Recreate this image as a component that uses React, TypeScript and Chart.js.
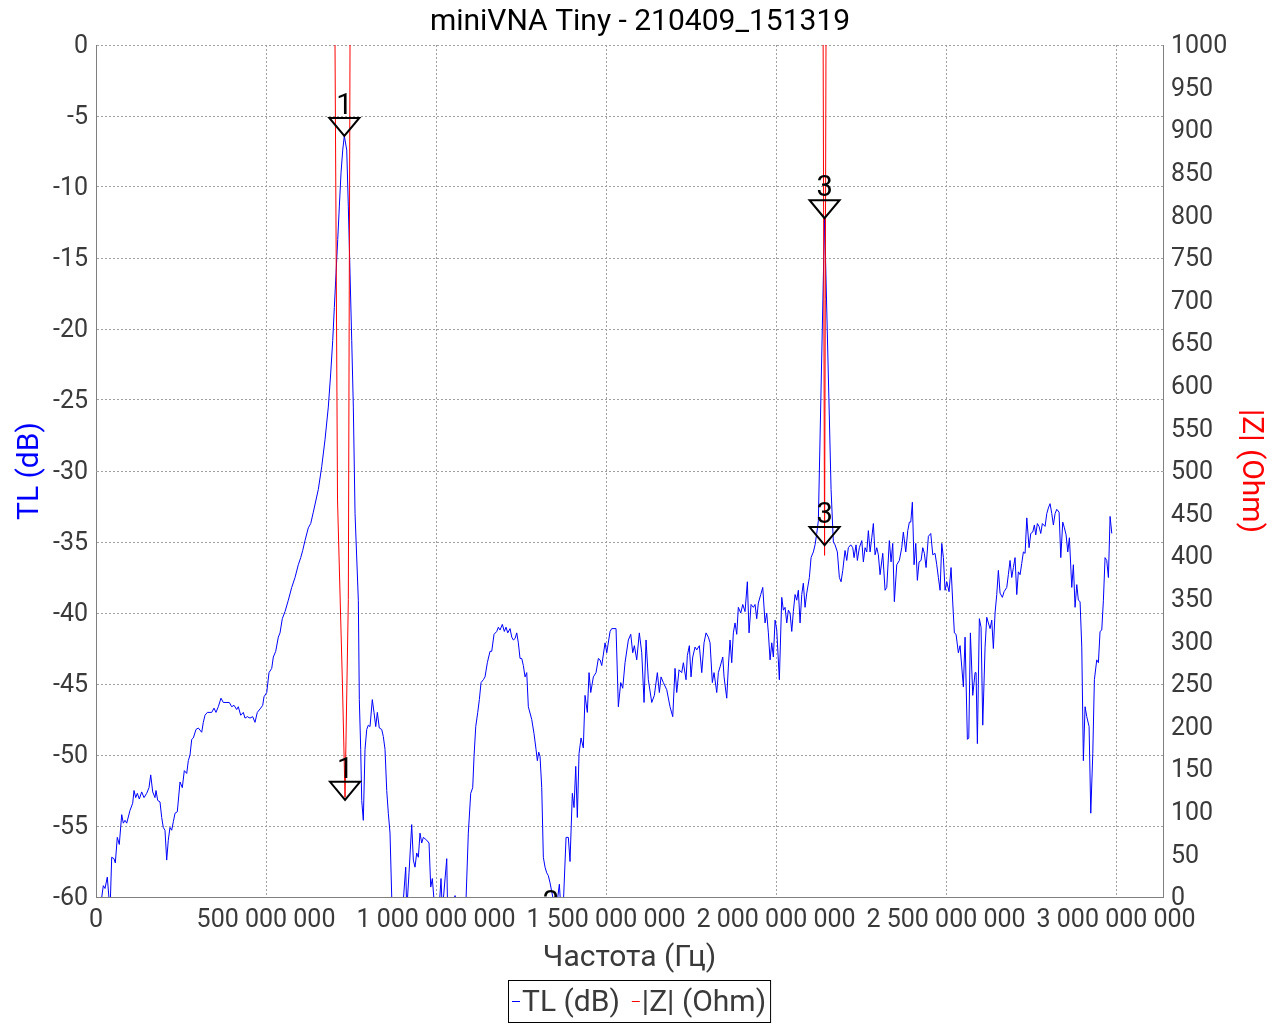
import React, { useEffect, useRef } from 'react';
import { Chart, registerables } from 'chart.js';

Chart.register(...registerables);

const FONT = 'Roboto, "Noto Sans", "DejaVu Sans", sans-serif';

const chartTitle = 'miniVNA Tiny - 210409_151319';
const xTitle = 'Частота (Гц)';
const tlLabel = 'TL (dB)';
const zLabel = '|Z| (Ohm)';

// TL (dB) trace: frequency in MHz and value in dB
const tlFreqMHz = [
  17, 21.5, 26.5, 33.2, 41.2, 46.2, 52.9, 56.8, 62.6, 68.5, 75.6, 80.3, 85.3, 90.3, 100, 107.9, 111.8, 116.8, 121.5, 127.4,
  134.4, 141.2, 149.1, 155.9, 160.9, 166.8, 173.5, 176.5, 181.5, 188.2, 193.2, 197.9, 202.9, 207.9, 212.6, 217.6, 222.6, 227.4, 232.4, 239.1,
  247.1, 253.8, 259.7, 266.8, 271.5, 276.5, 281.5, 286.2, 294.1, 300.9, 310.9, 315.6, 320.6, 327.4, 340.3, 347.1, 352.9, 359.7, 367.6, 374.4,
  382.4, 392.1, 399.1, 405.9, 413.8, 418.5, 425.6, 433.2, 438.2, 445.0, 452.9, 460.9, 467.6, 474.4, 484.4, 490.3, 494.1, 502.1, 508.8, 516.8,
  521.5, 528.5, 536.2, 541.2, 547.9, 555.9, 565.6, 575.6, 585.3, 595.0, 602.1, 607.9, 614.7, 624.4, 631.5, 639.1, 653.8, 663.8, 673.5, 683.2,
  690.3, 696.2, 700.9, 705.9, 710.9, 715.6, 720.6, 725.6, 730.3, 737.4, 742.1, 747.1, 752.1, 756.8, 761.8, 771.5, 774.4, 778.5, 781.5, 786.2,
  791.2, 796.2, 800.9, 805.9, 812.6, 817.6, 822.7, 827.4, 833.2, 840.3, 845.0, 850.0, 855.0, 859.7, 864.7, 869.7, 882.4, 897.0, 910.9, 913.8,
  920.6, 928.5, 933.3, 938.2, 943.2, 948.0, 952.9, 957.9, 962.7, 972.7, 979.4, 984.4, 989.1, 995.0, 1005.9, 1014.7, 1018.5, 1031.5, 1034.1, 1044.0,
  1055.9, 1068.0, 1088.2, 1095.0, 1102.0, 1107.9, 1111.8, 1116.8, 1122.7, 1127.4, 1132.4, 1139.1, 1144.1, 1150.9, 1158.8, 1163.8, 1170.6, 1178.5, 1183.3, 1188.2,
  1195.0, 1200.9, 1205.9, 1210.9, 1217.7, 1222.7, 1227.4, 1232.4, 1237.4, 1242.1, 1247.1, 1252.1, 1256.8, 1261.8, 1266.8, 1271.5, 1281.5, 1288.2, 1294.1, 1298.0,
  1302.1, 1305.9, 1310.9, 1315.6, 1320.6, 1325.6, 1330.3, 1335.3, 1345.0, 1353.0, 1362.7, 1367.6, 1374.4, 1382.4, 1389.1, 1394.1, 1400.9, 1405.9, 1410.9, 1415.6,
  1420.6, 1426.5, 1433.2, 1438.2, 1445.0, 1450.0, 1455.0, 1462.7, 1470.6, 1477.4, 1482.4, 1487.4, 1497.1, 1502.1, 1511.8, 1516.8, 1529.4, 1536.2, 1543.2, 1549.1,
  1555.9, 1565.6, 1572.7, 1578.5, 1583.3, 1590.3, 1597.9, 1605.0, 1611.8, 1617.7, 1624.4, 1634.4, 1642.1, 1650.9, 1656.8, 1661.8, 1668.5, 1678.5, 1688.2, 1696.2,
  1702.9, 1707.9, 1714.7, 1722.6, 1727.4, 1735.3, 1739.1, 1745.0, 1750.0, 1755.0, 1761.8, 1766.8, 1774.4, 1781.5, 1788.2, 1794.1, 1800.9, 1805.9, 1812.6, 1817.6,
  1825.6, 1830.3, 1835.3, 1843.3, 1847.1, 1855.0, 1859.7, 1864.7, 1869.7, 1874.4, 1879.4, 1884.4, 1889.1, 1896.2, 1902.1, 1908.8, 1915.6, 1920.6, 1926.5, 1933.2,
  1938.2, 1943.2, 1947.9, 1955.0, 1960.9, 1967.6, 1972.6, 1977.4, 1982.4, 1987.4, 1992.1, 1997.1, 2002.1, 2009.7, 2016.8, 2021.5, 2026.5, 2031.5, 2036.2, 2041.2,
  2046.2, 2050.9, 2055.9, 2060.9, 2065.6, 2070.6, 2075.6, 2080.3, 2085.3, 2090.3, 2098.0, 2103.0, 2109.7, 2114.7, 2119.7, 2124.4, 2142.7, 2161.8, 2168.5, 2173.5,
  2180.3, 2186.2, 2191.2, 2196.2, 2202.9, 2207.9, 2212.6, 2219.7, 2225.6, 2229.4, 2235.3, 2239.1, 2245.0, 2252.1, 2256.8, 2261.8, 2266.8, 2271.5, 2276.5, 2281.5,
  2286.2, 2291.2, 2296.2, 2300.9, 2305.9, 2313.8, 2320.6, 2325.6, 2333.2, 2338.2, 2343.2, 2347.9, 2355.0, 2362.6, 2369.7, 2374.4, 2381.5, 2387.4, 2392.1, 2396.2,
  2400.9, 2405.9, 2410.9, 2415.6, 2420.6, 2426.5, 2431.5, 2436.2, 2441.2, 2448.0, 2455.0, 2460.9, 2467.6, 2472.6, 2477.4, 2482.4, 2487.4, 2492.1, 2497.1, 2502.1,
  2508.8, 2514.7, 2519.7, 2524.4, 2529.4, 2536.2, 2541.2, 2546.2, 2550.9, 2555.9, 2562.7, 2566.8, 2571.5, 2578.5, 2585.3, 2588.2, 2592.1, 2597.9, 2602.9, 2607.9,
  2614.7, 2619.7, 2624.4, 2629.4, 2634.4, 2639.1, 2644.1, 2649.1, 2653.8, 2658.8, 2665.6, 2670.6, 2678.5, 2683.2, 2688.2, 2693.2, 2698.0, 2702.9, 2707.9, 2712.6,
  2717.7, 2722.6, 2727.4, 2732.4, 2737.4, 2744.1, 2749.1, 2755.0, 2759.7, 2763.8, 2768.5, 2773.5, 2778.5, 2783.2, 2791.2, 2796.2, 2800.9, 2805.9, 2810.9, 2815.6,
  2820.6, 2825.6, 2832.4, 2837.4, 2843.2, 2848.0, 2853.0, 2858.0, 2862.7, 2869.7, 2874.4, 2879.4, 2884.4, 2889.1, 2894.1, 2899.1, 2903.8, 2908.8, 2913.8, 2920.6,
  2925.6, 2931.5, 2936.2, 2943.2, 2948.0, 2952.9, 2957.9, 2962.7, 2967.6, 2972.6, 2977.4, 2982.4, 2987.4,
];

const tlDb = [
  -60.0, -59.2, -59.4, -58.6, -61.0, -57.2, -57.3, -57.6, -55.8, -56.3, -54.2, -54.8, -54.6, -54.8, -53.9, -53.4, -52.5, -53.0, -52.7, -53.1,
  -52.6, -53.0, -52.7, -52.3, -51.4, -52.6, -53.0, -52.5, -53.2, -53.3, -54.4, -55.1, -55.3, -57.4, -56.0, -55.1, -55.3, -54.7, -54.1, -54.0,
  -51.9, -52.3, -51.1, -51.3, -50.4, -50.0, -48.9, -48.8, -48.2, -48.1, -48.4, -47.7, -47.2, -47.0, -47.0, -46.7, -47.0, -46.6, -46.0, -46.3,
  -46.3, -46.3, -46.6, -46.5, -46.8, -46.6, -47.2, -47.0, -47.4, -47.3, -47.4, -47.3, -47.7, -47.0, -46.7, -46.5, -45.9, -45.6, -44.2, -43.9,
  -43.1, -42.7, -41.7, -41.4, -40.4, -39.9, -39.1, -38.2, -37.5, -36.6, -36.1, -35.6, -34.9, -34.0, -33.7, -32.9, -31.3, -29.7, -27.8, -25.5,
  -23.1, -20.8, -18.5, -16.1, -13.7, -11.4, -9.0, -7.4, -6.4, -7.4, -11.4, -16.1, -20.8, -25.5, -33.0, -39.1, -46.1, -49.6, -53.2, -54.6,
  -49.6, -48.2, -47.9, -48.0, -46.1, -47.0, -48.0, -47.0, -48.1, -48.2, -48.7, -49.6, -52.5, -54.1, -55.5, -60.0, -63.0, -62.5, -57.9, -61.0,
  -58.3, -54.9, -57.4, -57.9, -56.9, -57.2, -55.5, -56.2, -55.8, -56.0, -56.2, -59.3, -58.7, -60.5, -62.0, -58.7, -61.0, -57.3, -61.0, -61.0,
  -59.9, -61.0, -60.2, -55.5, -52.7, -52.3, -50.1, -48.0, -47.0, -46.1, -44.9, -44.7, -44.5, -43.5, -42.7, -42.7, -41.5, -41.3, -41.0, -41.2,
  -40.8, -41.3, -41.0, -41.4, -41.1, -41.7, -41.9, -41.8, -41.4, -42.1, -43.2, -43.2, -43.7, -44.5, -44.2, -46.6, -47.5, -48.5, -49.6, -50.4,
  -49.8, -50.1, -52.3, -57.2, -57.9, -58.3, -58.5, -59.0, -60.2, -61.0, -59.1, -61.0, -60.5, -55.8, -55.8, -57.5, -52.7, -53.7, -50.8, -54.4,
  -49.9, -48.8, -49.5, -45.8, -47.0, -44.2, -45.6, -44.5, -44.2, -43.2, -43.3, -43.7, -42.1, -42.8, -41.3, -41.1, -41.1, -46.6, -44.9, -45.3,
  -43.5, -41.9, -41.5, -42.8, -42.3, -43.3, -41.4, -42.8, -46.3, -41.9, -44.7, -46.3, -45.8, -44.2, -45.6, -44.5, -44.9, -45.4, -46.6, -47.3,
  -43.9, -45.6, -44.0, -44.2, -43.5, -44.7, -43.0, -42.3, -44.5, -43.1, -42.4, -42.6, -42.3, -44.2, -42.1, -41.4, -41.7, -42.1, -44.9, -44.2,
  -45.6, -44.2, -43.8, -43.1, -44.5, -46.0, -43.8, -41.9, -43.5, -41.4, -40.7, -41.5, -39.6, -40.0, -39.4, -39.9, -37.8, -41.4, -39.4, -39.6,
  -39.4, -40.4, -39.3, -38.7, -38.2, -40.7, -40.0, -41.4, -43.3, -42.1, -43.1, -40.5, -41.2, -44.7, -38.9, -39.8, -39.6, -40.7, -39.8, -40.0,
  -41.3, -39.9, -38.7, -39.1, -38.4, -40.7, -38.7, -37.9, -39.6, -38.6, -37.5, -36.1, -35.7, -35.2, -34.4, -33.5, -12.2, -31.3, -35.0, -35.2,
  -35.7, -37.5, -37.8, -37.0, -35.6, -36.3, -35.4, -35.2, -35.4, -36.1, -35.2, -36.3, -35.4, -34.9, -36.4, -35.4, -35.7, -34.2, -35.7, -34.7,
  -33.7, -35.9, -35.4, -35.9, -37.3, -35.8, -38.4, -38.2, -34.9, -36.4, -35.1, -39.2, -36.6, -36.3, -35.4, -34.3, -35.7, -34.2, -33.6, -33.6,
  -32.2, -36.6, -35.1, -37.7, -36.4, -36.3, -35.4, -35.8, -36.8, -34.6, -34.4, -35.9, -35.8, -36.6, -37.5, -38.4, -35.1, -36.1, -38.4, -37.8,
  -38.5, -36.8, -39.3, -41.4, -41.5, -42.8, -42.3, -43.8, -45.2, -41.7, -48.9, -48.8, -41.4, -45.8, -44.2, -44.2, -49.2, -40.4, -41.0, -47.9,
  -42.4, -40.3, -40.7, -41.1, -40.5, -42.5, -40.0, -38.7, -37.0, -38.6, -38.9, -38.5, -38.2, -37.3, -36.3, -37.5, -36.8, -36.1, -38.7, -37.1,
  -37.3, -36.5, -35.7, -35.8, -33.3, -35.4, -34.4, -34.3, -33.8, -34.5, -33.7, -33.9, -34.4, -33.7, -33.9, -33.0, -32.6, -32.3, -33.0, -33.8,
  -33.0, -32.7, -32.9, -36.1, -33.6, -34.0, -34.5, -35.7, -34.7, -38.2, -36.6, -39.6, -38.0, -39.1, -39.2, -42.4, -50.4, -46.6, -47.3, -48.0,
  -54.1, -49.9, -44.7, -43.3, -43.5, -41.3, -41.2, -39.1, -36.1, -36.3, -37.5, -33.2, -34.4,
];

// |Z| (Ohm) trace: frequency in MHz and value in Ohm (values above 1000 run off the top)
const zFreqMHz = [0, 300, 600, 698.5, 710.3, 724.7, 732.4, 742.1, 748.5, 900, 1500, 2000, 2135.3, 2142.7, 2150.1, 2500, 2990];
const zOhm = [3000, 2500, 1800, 1320, 466, 251, 117, 349, 1190, 2200, 1600, 1500, 1460, 401, 1460, 1700, 2000];

// Axis ranges and ticks
const xMaxHz = 3138e6;
const xTicksHz = [0, 500000000, 1000000000, 1500000000, 2000000000, 2500000000, 3000000000];
const yTicksDb = [-60, -55, -50, -45, -40, -35, -30, -25, -20, -15, -10, -5, 0];
const y1TicksOhm = [0, 50, 100, 150, 200, 250, 300, 350, 400, 450, 500, 550, 600, 650, 700, 750, 800, 850, 900, 950, 1000];

// Markers
const markerLabels = ['1', '1', '2', '3', '3'];
const markerFreqMHz = [730.3, 732.4, 1338, 2142.7, 2142.7];
const markerValues = [-6.4, 114, -62.5, -12.2, 413];
const markerAxes = ['y', 'y1', 'y', 'y', 'y1'];

const TICK_COLOR = '#3a3a3a';
const GRID_COLOR = '#a0a0a0';
const BORDER_COLOR = '#808080';

const fmtThousands = (v: number) => String(Math.round(v)).replace(/\B(?=(\d{3})+(?!\d))/g, '\u00a0');

const markerPlugin = {
  id: 'vnaMarkers',
  afterDatasetsDraw(chart: any) {
    const { ctx, chartArea, scales } = chart;
    ctx.save();
    ctx.beginPath();
    ctx.rect(chartArea.left, chartArea.top, chartArea.right - chartArea.left, chartArea.bottom - chartArea.top);
    ctx.clip();
    markerLabels.forEach((lab, i) => {
      const px = scales.x.getPixelForValue(markerFreqMHz[i] * 1e6);
      const py = scales[markerAxes[i]].getPixelForValue(markerValues[i]);
      ctx.beginPath();
      ctx.moveTo(px, py);
      ctx.lineTo(px - 15, py - 18);
      ctx.lineTo(px + 15, py - 18);
      ctx.closePath();
      ctx.lineWidth = 2;
      ctx.strokeStyle = '#000000';
      ctx.stroke();
      ctx.fillStyle = '#000000';
      ctx.font = `29px ${FONT}`;
      ctx.textAlign = 'center';
      ctx.textBaseline = 'alphabetic';
      ctx.fillText(lab, px, py - 22);
    });
    ctx.restore();
  },
};

const legendPlugin = {
  id: 'boxLegend',
  afterDraw(chart: any) {
    const { ctx } = chart;
    ctx.save();
    ctx.font = `30px ${FONT}`;
    const w1 = ctx.measureText(tlLabel).width;
    const w2 = ctx.measureText(zLabel).width;
    const pad = 4, seg = 8, gap = 2, between = 12;
    const total = pad + seg + gap + w1 + between + seg + gap + w2 + pad;
    const left = Math.round(639 - total / 2);
    const top = 980;
    const h = 42;
    const midY = top + h / 2;
    ctx.strokeStyle = '#000000';
    ctx.lineWidth = 1;
    ctx.strokeRect(left + 0.5, top + 0.5, total, h);
    let x = left + pad;
    ctx.textBaseline = 'middle';
    ctx.textAlign = 'left';
    ctx.lineWidth = 1;
    ctx.strokeStyle = '#0000ff';
    ctx.beginPath();
    ctx.moveTo(x, midY + 0.5);
    ctx.lineTo(x + seg, midY + 0.5);
    ctx.stroke();
    x += seg + gap;
    ctx.fillStyle = TICK_COLOR;
    ctx.fillText(tlLabel, x, midY + 2);
    x += w1 + between;
    ctx.strokeStyle = '#ff0000';
    ctx.beginPath();
    ctx.moveTo(x, midY + 0.5);
    ctx.lineTo(x + seg, midY + 0.5);
    ctx.stroke();
    x += seg + gap;
    ctx.fillText(zLabel, x, midY + 2);
    ctx.restore();
  },
};

export default function App() {
  const canvasRef = useRef<HTMLCanvasElement | null>(null);

  useEffect(() => {
    if (!canvasRef.current) return;
    Chart.defaults.font.family = FONT;
    const tickFont = { family: FONT, size: 25 };
    const titleFont = { family: FONT, size: 30 };

    const chart = new Chart(canvasRef.current, {
      type: 'line',
      data: {
        datasets: [
          {
            label: tlLabel,
            data: tlFreqMHz.map((f, i) => ({ x: f * 1e6, y: tlDb[i] })),
            borderColor: '#0000ff',
            backgroundColor: '#0000ff',
            borderWidth: 1,
            pointRadius: 0,
            tension: 0,
            yAxisID: 'y',
            order: 1,
          },
          {
            label: zLabel,
            data: zFreqMHz.map((f, i) => ({ x: f * 1e6, y: zOhm[i] })),
            borderColor: '#ff0000',
            backgroundColor: '#ff0000',
            borderWidth: 1,
            pointRadius: 0,
            tension: 0,
            yAxisID: 'y1',
            order: 0,
          },
        ],
      },
      options: {
        responsive: false,
        animation: false,
        events: [],
        layout: { padding: 0 },
        plugins: {
          legend: { display: false },
          tooltip: { enabled: false },
          title: {
            display: true,
            text: chartTitle,
            color: '#000000',
            font: { family: FONT, size: 30, weight: 'normal' },
            padding: { top: 4, bottom: 5 },
          },
        },
        scales: {
          x: {
            type: 'linear',
            min: 0,
            max: xMaxHz,
            afterBuildTicks: (s: any) => {
              s.ticks = xTicksHz.map((v) => ({ value: v }));
            },
            afterFit: (s: any) => {
              s.height = 127;
            },
            ticks: {
              callback: (v: any) => fmtThousands(Number(v)),
              color: TICK_COLOR,
              font: tickFont,
              padding: 9,
              autoSkip: false,
              maxRotation: 0,
            },
            grid: { color: GRID_COLOR, lineWidth: 1, drawTicks: false },
            border: { color: BORDER_COLOR, width: 1, dash: [2, 2] },
            title: {
              display: true,
              text: xTitle,
              color: TICK_COLOR,
              font: titleFont,
              padding: { top: 0, bottom: 48 },
            },
          },
          y: {
            type: 'linear',
            position: 'left',
            min: -60,
            max: 0,
            afterBuildTicks: (s: any) => {
              s.ticks = yTicksDb.map((v) => ({ value: v }));
            },
            afterFit: (s: any) => {
              s.width = 96;
            },
            ticks: { color: TICK_COLOR, font: tickFont, padding: 8, autoSkip: false, labelOffset: 2, callback: (v: any) => String(v) },
            grid: { color: GRID_COLOR, lineWidth: 1, drawTicks: false },
            border: { color: BORDER_COLOR, width: 1, dash: [2, 2] },
            title: {
              display: true,
              text: tlLabel,
              color: '#0000ff',
              font: titleFont,
              padding: { top: 12, bottom: 0 },
            },
          },
          y1: {
            type: 'linear',
            position: 'right',
            min: 0,
            max: 1000,
            afterBuildTicks: (s: any) => {
              s.ticks = y1TicksOhm.map((v) => ({ value: v }));
            },
            afterFit: (s: any) => {
              s.width = 117;
            },
            ticks: { color: TICK_COLOR, font: tickFont, padding: 8, autoSkip: false, labelOffset: 2, callback: (v: any) => String(v) },
            grid: { drawOnChartArea: false, drawTicks: false },
            border: { color: BORDER_COLOR, width: 1 },
            title: {
              display: true,
              text: zLabel,
              color: '#ff0000',
              font: titleFont,
              padding: { top: 12, bottom: 0 },
            },
          },
        },
      },
      plugins: [markerPlugin, legendPlugin],
    } as any);

    return () => {
      chart.destroy();
    };
  }, []);

  return (
    <div style={{ position: 'fixed', left: 0, top: 0, width: 1280, height: 1024, background: '#ffffff' }}>
      <canvas ref={canvasRef} width={1280} height={1024} style={{ display: 'block' }} />
    </div>
  );
}
